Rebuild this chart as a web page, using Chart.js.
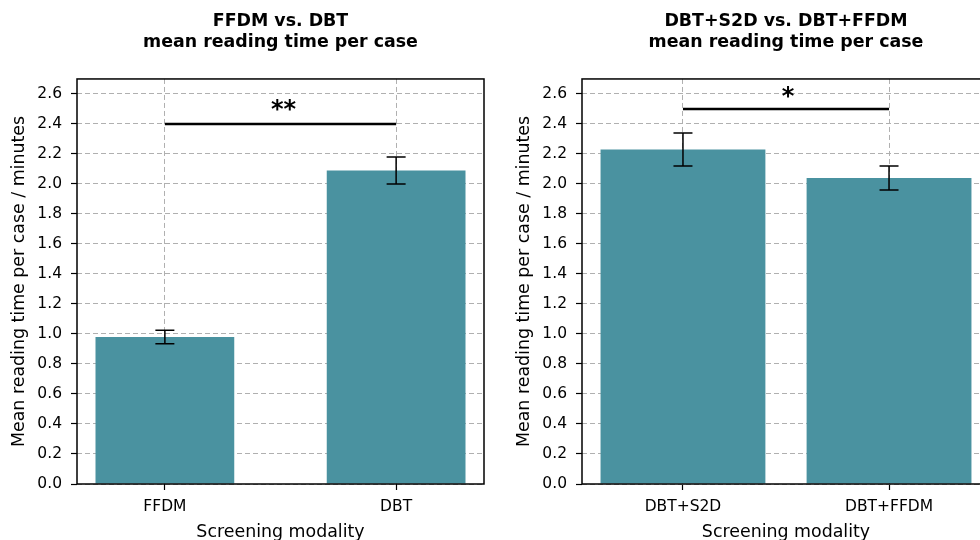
<!DOCTYPE html>
<html><head><meta charset="utf-8">
<script src="https://cdn.jsdelivr.net/npm/chart.js@4/dist/chart.umd.min.js"></script>
<style>
html,body{margin:0;padding:0;background:#fff;overflow:hidden;width:980px;height:540px}
.wrap{position:absolute;top:0;width:505px;height:544px}
</style></head><body>
<div class="wrap" style="left:0"><canvas id="c1" width="505" height="544"></canvas></div>
<div class="wrap" style="left:505px"><canvas id="c2" width="505" height="544"></canvas></div>
<script>
// ---- data ----
const leftTitle = ['FFDM vs. DBT', 'mean reading time per case'];
const leftCategories = ['FFDM', 'DBT'];
const leftMeans = [0.98, 2.09];
const leftErrors = [0.045, 0.09];
const leftSigLevel = 2.4;
const leftSigLabel = '**';

const rightTitle = ['DBT+S2D vs. DBT+FFDM', 'mean reading time per case'];
const rightCategories = ['DBT+S2D', 'DBT+FFDM'];
const rightMeans = [2.23, 2.04];
const rightErrors = [0.11, 0.08];
const rightSigLevel = 2.5;
const rightSigLabel = '*';

const yTickValues = [0.0, 0.2, 0.4, 0.6, 0.8, 1.0, 1.2, 1.4, 1.6, 1.8, 2.0, 2.2, 2.4, 2.6];
const xAxisLabel = 'Screening modality';
const yAxisLabel = 'Mean reading time per case / minutes';

// ---- styling ----
const FONT = '"DejaVu Sans", sans-serif';
const BAR_COLOR = 'rgb(74,146,160)';
const GRID_COLOR = '#b0b0b0';
const TICK_FONT = 15.5;

const annotPlugin = {
  id: 'annot',
  afterDatasetsDraw(chart, args, opts) {
    const {ctx, chartArea: a} = chart;
    const x = chart.scales.x, y = chart.scales.y;
    ctx.save();
    // error bars
    ctx.strokeStyle = '#000';
    ctx.lineWidth = 1.5;
    opts.means.forEach((m, i) => {
      const px = x.getPixelForValue(i);
      const top = y.getPixelForValue(m + opts.errors[i]);
      const bot = y.getPixelForValue(m - opts.errors[i]);
      ctx.beginPath();
      ctx.moveTo(px, top); ctx.lineTo(px, bot);
      ctx.moveTo(px - 9.5, top); ctx.lineTo(px + 9.5, top);
      ctx.moveTo(px - 9.5, bot); ctx.lineTo(px + 9.5, bot);
      ctx.stroke();
    });
    // significance marker
    ctx.fillStyle = '#000';
    ctx.font = 'bold 24px ' + FONT;
    ctx.textAlign = 'center';
    ctx.textBaseline = 'alphabetic';
    const mid = (x.getPixelForValue(0) + x.getPixelForValue(opts.means.length - 1)) / 2;
    ctx.fillText(opts.sigLabel, mid + opts.starDx, y.getPixelForValue(opts.sigLevel) - opts.starDy);
    // frame
    ctx.lineWidth = 1.5;
    ctx.strokeRect(a.left, a.top, a.right - a.left, a.bottom - a.top);
    ctx.restore();
  }
};

function makeChart(id, titleLines, cats, means, errors, sigLevel, sigLabel, style) {
  const barData = means.map((m, i) => ({x: i, y: m}));
  const sigData = [{x: 0, y: sigLevel}, {x: cats.length - 1, y: sigLevel}];
  return new Chart(document.getElementById(id), {
    type: 'bar',
    data: {
      datasets: [
        {type: 'line', data: sigData, borderColor: '#000', borderWidth: 2.5,
         pointRadius: 0, fill: false, order: -1},
        {type: 'bar', data: barData, backgroundColor: BAR_COLOR, borderWidth: 0,
         barPercentage: style.barPct, categoryPercentage: 1.0, order: 1}
      ]
    },
    options: {
      responsive: false,
      devicePixelRatio: 1,
      animation: false,
      layout: {padding: {top: 0, right: style.padRight, bottom: 0, left: 0}},
      plugins: {
        legend: {display: false},
        tooltip: {enabled: false},
        title: {
          display: true, text: titleLines, fullSize: false, color: '#000',
          font: {family: FONT, size: 17.4, weight: 'bold', lineHeight: 1.2},
          padding: {top: 11.5, bottom: 25.7}
        },
        annot: {means, errors, sigLevel, sigLabel, starDx: style.starDx, starDy: style.starDy}
      },
      scales: {
        x: {
          type: 'linear', min: style.xMin, max: style.xMax, offset: false,
          afterBuildTicks: s => { s.ticks = cats.map((c, i) => ({value: i})); },
          ticks: {callback: v => cats[v], color: '#000', font: {family: FONT, size: TICK_FONT},
                  padding: 8, maxRotation: 0, autoSkip: false},
          grid: {color: GRID_COLOR, lineWidth: 1, offset: false, tickColor: '#000',
                 tickLength: 6, tickWidth: 1.2},
          border: {display: false, dash: [5, 3]},
          title: {display: true, text: xAxisLabel, color: '#000',
                  font: {family: FONT, size: 17.4}, padding: {top: 0, bottom: 1}},
          afterFit: s => { s.height = 60; }
        },
        y: {
          min: 0, max: 2.7,
          afterBuildTicks: s => { s.ticks = yTickValues.map(v => ({value: v})); },
          ticks: {callback: v => Number(v).toFixed(1), color: '#000',
                  font: {family: FONT, size: TICK_FONT}, padding: 9},
          grid: {color: GRID_COLOR, lineWidth: 1, tickColor: '#000', tickLength: 6, tickWidth: 1.2},
          border: {display: false, dash: [5, 3]},
          title: {display: true, text: yAxisLabel, color: '#000',
                  font: {family: FONT, size: 17.4}, padding: {top: 9, bottom: 0}},
          afterFit: s => { s.width = 77; }
        }
      }
    },
    plugins: [annotPlugin]
  });
}

makeChart('c1', leftTitle, leftCategories, leftMeans, leftErrors, leftSigLevel, leftSigLabel,
  {barPct: 0.6, xMin: -0.38, xMax: 1.38, padRight: 21, starDx: 3, starDy: 7});
makeChart('c2', rightTitle, rightCategories, rightMeans, rightErrors, rightSigLevel, rightSigLabel,
  {barPct: 0.8, xMin: -0.49, xMax: 1.49, padRight: 20, starDx: 2, starDy: 5});
</script>
</body></html>
